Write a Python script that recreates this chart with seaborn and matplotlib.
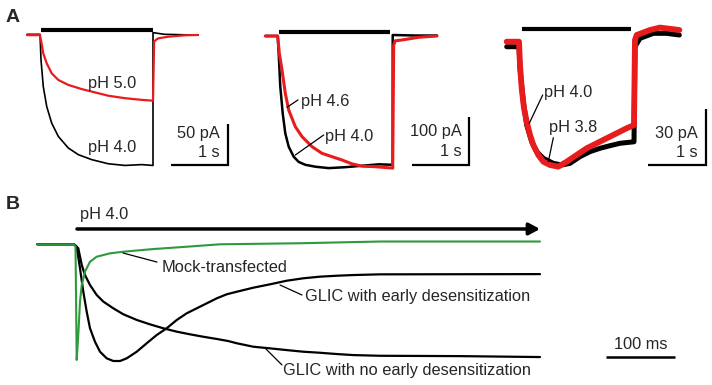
import matplotlib
matplotlib.use("Agg")
import matplotlib.pyplot as plt
import seaborn as sns

sns.set_theme(style="white")
plt.rcParams['font.family'] = ['Liberation Sans', 'DejaVu Sans']

# ---------------- DATA ----------------
# Panel A1 (time in s, current in pA)
A1_T_BLACK = [-0.23, 0.0, 0.018, 0.058, 0.119, 0.207, 0.324, 0.501, 0.678, 0.915, 1.209, 1.504, 1.8, 2.0, 2.0, 2.2, 2.8]
A1_I_BLACK = [0, 0, -31, -63, -87, -107, -123, -137, -145, -151, -156, -158, -157, -158, 2, 0, -1]
A1_T_RED = [-0.23, 0.0, 0.018, 0.058, 0.119, 0.207, 0.324, 0.501, 0.738, 0.915, 1.209, 1.504, 1.8, 2.0, 2.02, 2.048, 2.094, 2.27, 2.566, 2.796]
A1_I_RED = [-1, -1, -7, -23, -35, -47, -55, -61, -66, -69, -74, -77, -79, -80, -9, -6.9, -4.9, -2.9, -1.2, -0.8]

# Panel A2
A2_T_BLACK = [-0.215, 0, 0.017, 0.045, 0.087, 0.132, 0.191, 0.278, 0.365, 0.48, 0.654, 0.887, 1.176, 1.466, 1.757, 2.0, 2.0, 2.05, 2.4, 2.77]
A2_I_BLACK = [0, 0, -36, -106, -162, -204, -232, -253, -264, -270, -274, -277, -275, -272, -269, -270, 2, 2, 1, 1]
A2_T_RED = [-0.215, 0, 0.028, 0.075, 0.132, 0.191, 0.306, 0.423, 0.597, 0.77, 0.944, 1.118, 1.292, 1.466, 1.697, 2.0, 2.017, 2.045, 2.16, 2.45, 2.77]
A2_I_RED = [0, 0, -36, -71, -120, -155, -190, -211, -232, -246, -253, -260, -268, -273, -274, -277, -19, -10, -8.4, -2.7, 0]

# Panel A3
A3_T_BLACK = [-0.214, 0, 0.017, 0.075, 0.134, 0.221, 0.308, 0.423, 0.597, 0.743, 0.887, 1.061, 1.235, 1.409, 1.583, 1.757, 2.0, 2.017, 2.104, 2.336, 2.569, 2.788]
A3_I_BLACK = [-2.7, -2.7, -14.3, -32.3, -44.9, -53.9, -59.2, -62.8, -65.5, -66.4, -65.5, -61.9, -59.2, -57.4, -56, -54.7, -53.9, -2.7, 1.8, 4.5, 4.5, 3.6]
A3_T_RED = [-0.214, 0, 0.017, 0.047, 0.087, 0.134, 0.191, 0.249, 0.336, 0.423, 0.539, 0.683, 0.83, 1.003, 1.177, 1.351, 1.525, 1.699, 1.873, 2.0, 2.017, 2.047, 2.278, 2.452, 2.788]
A3_I_RED = [0, 0, -12.5, -25.1, -35.9, -43.1, -50.2, -55.6, -61, -64.6, -66.4, -67.3, -64.6, -61, -57.4, -54.7, -52, -49.3, -46.6, -44.9, 0.9, 3.6, 6.3, 7.6, 6.3]

# Panel B (time in ms, normalised current)
B_T_GREEN = [-53.2, 0, 2.2, 3.9, 6.2, 8.7, 11.2, 15.9, 23.2, 32.9, 52.2, 71.4, 114.9, 163.3, 211.6, 327.5, 443.5, 675.4]
B_I_GREEN = [0, 0, -0.023, -0.997, -0.78, -0.495, -0.351, -0.236, -0.15, -0.107, -0.078, -0.064, -0.041, -0.021, 0, 0.009, 0.024, 0.024]
B_T_EARLY = [-53.2, 0, 3.9, 8.7, 13.5, 18.4, 23.2, 30.4, 37.7, 47.4, 57, 66.7, 76.4, 90.9, 105.4, 119.9, 134.3, 148.8,
             163.3, 177.8, 192.3, 206.8, 221.3, 235.8, 259.9, 284.1, 308.3, 332.3, 356.5, 380.7, 404.8, 443.5, 675.4]
B_I_EARLY = [0, 0, -0.021, -0.207, -0.409, -0.581, -0.724, -0.840, -0.926, -0.983, -1.006, -1.006, -0.983, -0.926, -0.853,
             -0.782, -0.724, -0.653, -0.595, -0.552, -0.509, -0.466, -0.431, -0.409, -0.374, -0.345, -0.314, -0.293,
             -0.279, -0.271, -0.265, -0.259, -0.257]
B_T_NOEARLY = [-53.2, 0, 6.2, 11.2, 15.9, 23.2, 32.9, 42.5, 57, 71.4, 90.9, 110.1, 129.4, 148.8, 168.1, 187.4, 206.8,
               223.6, 235.8, 259.9, 284.1, 308.3, 332.3, 356.5, 380.7, 404.8, 443.5, 559.4, 675.4]
B_I_NOEARLY = [0, 0, -0.034, -0.178, -0.265, -0.351, -0.437, -0.494, -0.552, -0.603, -0.652, -0.690, -0.724, -0.753,
               -0.776, -0.797, -0.816, -0.834, -0.853, -0.883, -0.897, -0.912, -0.926, -0.935, -0.946, -0.955, -0.961,
               -0.964, -0.972]

# Labels
A1_LABELS = ["pH 5.0", "pH 4.0"]
A2_LABELS = ["pH 4.6", "pH 4.0"]
A3_LABELS = ["pH 4.0", "pH 3.8"]
B_STIM = "pH 4.0"
B_LABELS = ["Mock-transfected", "GLIC with early desensitization", "GLIC with no early desensitization"]
SCALE_A = [("50 pA", 50), ("100 pA", 100), ("30 pA", 30)]
SCALE_B = ("100 ms", 100)

# ---------------- FIGURE ----------------
W, H = 712, 385
fig = plt.figure(figsize=(W / 100, H / 100), dpi=100)
fig.patch.set_facecolor('white')

RED = '#e81c1c'
GREEN = '#2e9a3c'
FS = 11.8


def overlay(ox, oy, sx, sy):
    ax = fig.add_axes([0, 0, 1, 1], facecolor='none')
    ax.set_xlim(-ox / sx, (W - ox) / sx)
    ax.set_ylim(-(H - oy) / sy, oy / sy)
    ax.axis('off')
    return ax


def trace(ax, t, i, color, lw):
    sns.lineplot(x=t, y=i, ax=ax, color=color, linewidth=lw, estimator=None,
                 sort=False, legend=False)


def leader(ax, x0, y0, x1, y1):
    ax.plot([x0, x1], [y0, y1], color='black', lw=0.9)


def scalebar(ax, xr, yb, amp, ltxt, txt_x, ty1, ty2):
    ax.plot([xr - 1, xr, xr], [yb, yb, yb + amp], color='black', lw=1.6,
            solid_joinstyle='miter', solid_capstyle='butt')
    ax.text(txt_x, ty1, ltxt, ha='right', va='center', fontsize=FS)
    ax.text(txt_x, ty2, "1 s", ha='right', va='center', fontsize=FS)


# Panel A1: origin px (40, 34.3), 56.5 px/s, 0.83 px/pA
a1 = overlay(40, 34.3, 56.5, 0.83)
trace(a1, A1_T_BLACK, A1_I_BLACK, 'black', 1.2)
trace(a1, A1_T_RED, A1_I_RED, RED, 1.6)
a1.plot([0.018, 2.0], [4.8, 4.8], color='black', lw=3.0, solid_capstyle='butt')
a1.text(1.285, -59, A1_LABELS[0], ha='center', va='center', fontsize=FS)
a1.text(1.285, -136.6, A1_LABELS[1], ha='center', va='center', fontsize=FS)
scalebar(a1, 3.327, -157.5, SCALE_A[0][1], SCALE_A[0][0], 3.186, -119, -143)

# Panel A2: origin (277.7, 36), 57.5 px/s, 0.477 px/pA
a2 = overlay(277.7, 36, 57.5, 0.477)
trace(a2, A2_T_BLACK, A2_I_BLACK, 'black', 1.8)
trace(a2, A2_T_RED, A2_I_RED, RED, 2.2)
a2.plot([0.028, 1.958], [9, 9], color='black', lw=3.0, solid_capstyle='butt')
a2.text(0.82, -138, A2_LABELS[0], ha='center', va='center', fontsize=FS)
leader(a2, 0.162, -149.5, 0.353, -134)
a2.text(1.245, -211, A2_LABELS[1], ha='center', va='center', fontsize=FS)
leader(a2, 0.306, -249.5, 0.80, -207.5)
scalebar(a2, 3.327, -270, SCALE_A[1][1], SCALE_A[1][0], 3.205, -201, -243)

# Panel A3: origin (519, 41.7), 57.5 px/s, 1.857 px/pA
a3 = overlay(519, 41.7, 57.5, 1.857)
trace(a3, A3_T_BLACK, A3_I_BLACK, 'black', 3.6)
trace(a3, A3_T_RED, A3_I_RED, RED, 4.2)
a3.plot([0.047, 1.943], [6.7, 6.7], color='black', lw=3.0, solid_capstyle='butt')
a3.text(0.857, -27.3, A3_LABELS[0], ha='center', va='center', fontsize=FS)
leader(a3, 0.179, -43.9, 0.412, -28.7)
a3.text(0.934, -46.3, A3_LABELS[1], ha='center', va='center', fontsize=FS)
leader(a3, 0.510, -64.6, 0.597, -51.7)
scalebar(a3, 3.252, -66.4, SCALE_A[2][1], SCALE_A[2][0], 3.113, -49.2, -59.4)

# Panel B: origin (74, 244.3), 0.69 px/ms, 116 px/unit
b = overlay(74, 244.3, 0.69, 116)
trace(b, B_T_NOEARLY, B_I_NOEARLY, 'black', 1.6)
trace(b, B_T_EARLY, B_I_EARLY, 'black', 1.6)
trace(b, B_T_GREEN, B_I_GREEN, GREEN, 1.5)
b.annotate('', xy=(675.4, 0.132), xytext=(4.3, 0.132),
           arrowprops=dict(arrowstyle='-|>,head_length=0.65,head_width=0.35',
                           lw=2.5, color='black', shrinkA=0, shrinkB=0,
                           mutation_scale=10))
b.text(8.7, 0.253, B_STIM, ha='left', va='center', fontsize=FS)
b.text(127.5, -0.196, B_LABELS[0], ha='left', va='center', fontsize=FS)
leader(b, 71, -0.075, 120.3, -0.153)
b.text(334.8, -0.454, B_LABELS[1], ha='left', va='center', fontsize=FS)
leader(b, 298.6, -0.351, 330.4, -0.437)
b.text(302.9, -1.092, B_LABELS[2], ha='left', va='center', fontsize=FS)
leader(b, 276.8, -0.894, 301.4, -1.04)
b.plot([771, 771 + SCALE_B[1]], [-0.97, -0.97], color='black', lw=1.8, solid_capstyle='butt')
b.text(821, -0.868, SCALE_B[0], ha='center', va='center', fontsize=FS)

fig.text(13 / W, 1 - 17 / H, "A", fontsize=14, fontweight='bold', ha='center', va='center')
fig.text(13 / W, 1 - 205 / H, "B", fontsize=14, fontweight='bold', ha='center', va='center')

fig.savefig("out.png", dpi=100, facecolor='white')
